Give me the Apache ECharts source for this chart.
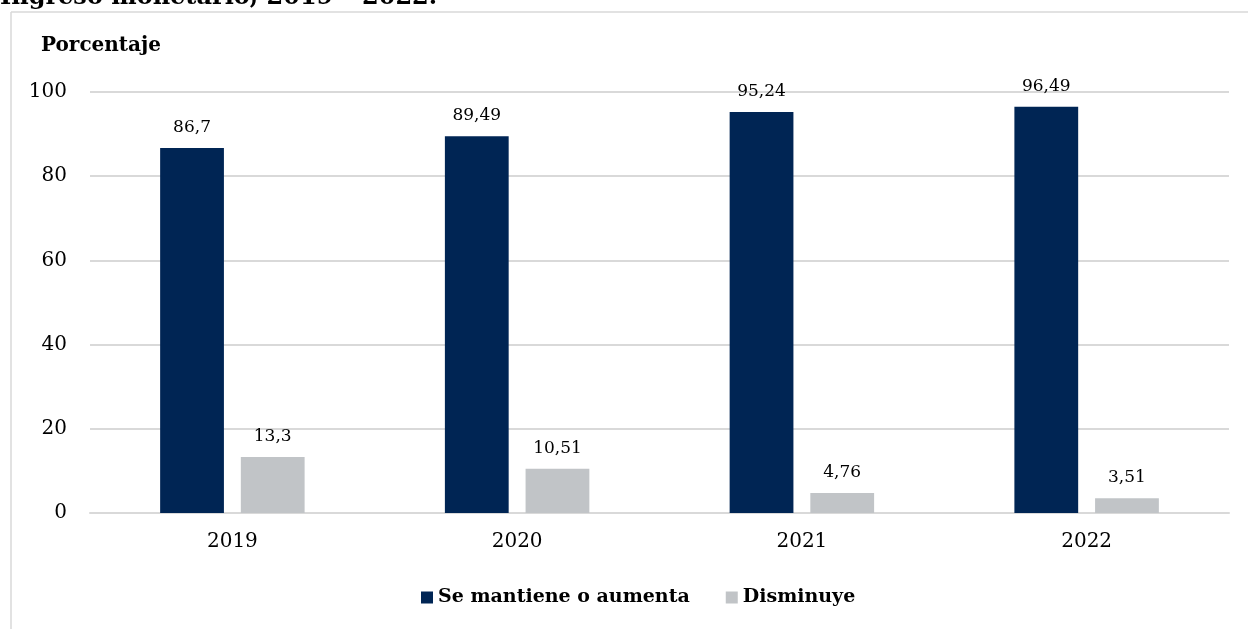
<!DOCTYPE html>
<html>
<head>
<meta charset="utf-8">
<script src="https://cdn.jsdelivr.net/npm/echarts@6/dist/echarts.min.js"></script>
<style>html,body{margin:0;padding:0;background:#fff}#c{width:1248px;height:629px}</style>
</head>
<body>
<div id="c"></div>
<script>
const categories = ['2019', '2020', '2021', '2022'];
const seriesNames = ['Se mantiene o aumenta', 'Disminuye'];
const mantieneValues = [86.7, 89.49, 95.24, 96.49];
const disminuyeValues = [13.3, 10.51, 4.76, 3.51];
const yTicks = { min: 0, max: 100, interval: 20 };

const serif = 'DejaVu Serif';
const fmt = p => String(p.value).replace('.', ',');
const chart = echarts.init(document.getElementById('c'));
chart.setOption({
  animation: false,
  backgroundColor: '#fff',
  graphic: [
    { type: 'line', shape: { x1: 11, y1: 12, x2: 1248, y2: 12 }, style: { stroke: '#d9d9d9', lineWidth: 1.5 } },
    { type: 'line', shape: { x1: 11, y1: 12, x2: 11, y2: 629 }, style: { stroke: '#d9d9d9', lineWidth: 1.5 } },
    { type: 'text', left: 0, top: -14, style: { text: 'Ingreso monetario, 2019 – 2022.', font: 'bold 24px "DejaVu Serif"', fill: '#000' } },
    { type: 'text', left: 41, top: 36, style: { text: 'Porcentaje', font: 'bold 20px "DejaVu Serif"', fill: '#000' } }
  ],
  legend: {
    left: 416, top: 583,
    itemWidth: 12, itemHeight: 12, itemGap: 36,
    icon: 'rect',
    textStyle: { fontFamily: serif, fontWeight: 'bold', fontSize: 19, color: '#000' },
    data: seriesNames
  },
  grid: { left: 90, right: 19, top: 92, bottom: 116 },
  xAxis: {
    type: 'category', data: categories,
    axisLine: { lineStyle: { color: '#d9d9d9', width: 2 } },
    axisTick: { show: false },
    axisLabel: { fontFamily: serif, fontSize: 20, color: '#000', margin: 19 }
  },
  yAxis: {
    type: 'value', min: yTicks.min, max: yTicks.max, interval: yTicks.interval,
    axisLine: { show: false }, axisTick: { show: false },
    axisLabel: { fontFamily: serif, fontSize: 20, color: '#000', margin: 23 },
    splitLine: { lineStyle: { color: '#d9d9d9', width: 2 } }
  },
  series: [
    { name: seriesNames[0], type: 'bar', data: mantieneValues, barWidth: '22.4%', barGap: '26.5%',
      itemStyle: { color: '#002554' },
      label: { show: true, position: 'top', distance: 12, formatter: fmt, fontFamily: serif, fontSize: 17, color: '#000' } },
    { name: seriesNames[1], type: 'bar', data: disminuyeValues, barWidth: '22.4%',
      itemStyle: { color: '#c1c4c7' },
      label: { show: true, position: 'top', distance: 12, formatter: fmt, fontFamily: serif, fontSize: 17, color: '#000' } }
  ]
});
</script>
</body>
</html>
